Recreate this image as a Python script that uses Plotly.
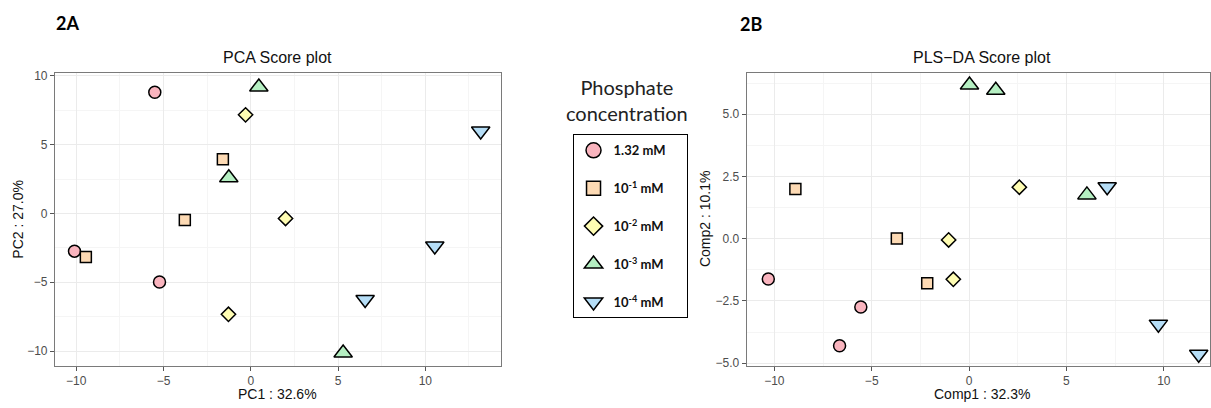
import plotly.graph_objects as go

W, H = 1211, 408

groups = ["1.32 mM", "10<sup>-1</sup> mM", "10<sup>-2</sup> mM", "10<sup>-3</sup> mM", "10<sup>-4</sup> mM"]
symbols = ["circle", "square", "diamond", "triangle-up", "triangle-down"]
colors = ["#F9B4BE", "#FDDAB4", "#FFFDB3", "#B5EFC2", "#B5DDF6"]
sizes = [12, 11, 11, 16, 16]
legend_sizes = [15, 14, 14, 16, 16]

# PCA scores (PC1, PC2) per group
pca_x = [[-5.5, -10.1, -5.23], [-1.6, -3.78, -9.45], [-0.3, 1.99, -1.28], [0.46, -1.26, 5.29], [13.17, 10.54, 6.55]]
pca_y = [[8.81, -2.74, -4.98], [3.95, -0.48, -3.17], [7.17, -0.36, -7.33], [9.2, 2.6, -10.14], [6.0, -2.36, -6.26]]

# PLS-DA scores (Comp1, Comp2) per group
pls_x = [[-10.31, -5.56, -6.65], [-8.92, -3.71, -2.15], [2.58, -1.05, -0.81], [0.02, 1.37, 6.05], [7.09, 9.72, 11.79]]
pls_y = [[-1.62, -2.74, -4.30], [2.0, 0.01, -1.79], [2.07, -0.05, -1.63], [6.17, 5.96, 1.76], [2.09, -3.43, -4.64]]

PAD = "\u00a0" * 5  # trailing room so the legend box is as wide as the reference

fig = go.Figure()
for i, g in enumerate(groups):
    mk = dict(symbol=symbols[i], color=colors[i], size=sizes[i], line=dict(color="black", width=1.5))
    fig.add_trace(go.Scatter(x=pca_x[i], y=pca_y[i], mode="markers", marker=mk, name=g,
                             legendgroup=g, showlegend=False, xaxis="x", yaxis="y"))
    fig.add_trace(go.Scatter(x=pls_x[i], y=pls_y[i], mode="markers", marker=mk, name=g,
                             legendgroup=g, showlegend=False, xaxis="x2", yaxis="y2"))
    # legend entry (larger key symbol, as in the reference legend)
    lmk = dict(symbol=symbols[i], color=colors[i], size=legend_sizes[i], line=dict(color="black", width=1.5))
    fig.add_trace(go.Scatter(x=[None], y=[None], mode="markers", marker=lmk, name=g + PAD,
                             legendgroup=g, showlegend=True, xaxis="x", yaxis="y"))

def px2x(p):
    return p / W

def px2y(p):
    return 1 - p / H

grid = "#EBEBEB"
minorgrid = "#F5F5F5"
axcommon = dict(showgrid=True, gridcolor=grid, gridwidth=1.2, zeroline=False, showline=True,
                linecolor="#7a7a7a", linewidth=1, mirror=True, ticks="outside", ticklen=4,
                tickcolor="#555", tickfont=dict(family="Liberation Sans, Arial", size=12, color="#4D4D4D"))

fig.update_layout(
    width=W, height=H, margin=dict(l=0, r=0, t=0, b=0),
    plot_bgcolor="white", paper_bgcolor="white",
    xaxis=dict(domain=[px2x(55), px2x(501)], range=[-11.22, 14.31], tickvals=[-10, -5, 0, 5, 10],
               minor=dict(tickvals=[-7.5, -2.5, 2.5, 7.5, 12.5], showgrid=True, gridcolor=minorgrid, ticks=""),
               anchor="y", **axcommon),
    yaxis=dict(domain=[px2y(370), px2y(71)], range=[-11.07, 10.24], tickvals=[-10, -5, 0, 5, 10],
               minor=dict(tickvals=[-7.5, -2.5, 2.5, 7.5], showgrid=True, gridcolor=minorgrid, ticks=""),
               anchor="x", **axcommon),
    xaxis2=dict(domain=[px2x(747.3), 1.0], range=[-11.42, 12.37], tickvals=[-10, -5, 0, 5, 10],
                minor=dict(tickvals=[-7.5, -2.5, 2.5, 7.5, 12.5], showgrid=True, gridcolor=minorgrid, ticks=""),
                anchor="y2", **axcommon),
    yaxis2=dict(domain=[px2y(370), px2y(71)], range=[-5.1, 6.67], tickvals=[-5, -2.5, 0, 2.5, 5],
                tickformat=".1f",
                minor=dict(tickvals=[-3.75, -1.25, 1.25, 3.75, 6.25], showgrid=True, gridcolor=minorgrid, ticks=""),
                anchor="x2", **axcommon),
    legend=dict(x=px2x(573), y=px2y(134), xanchor="left", yanchor="top",
                bordercolor="black", borderwidth=1, bgcolor="white",
                font=dict(family="Lato", size=13, color="#111", weight="bold"),
                tracegroupgap=18, itemsizing="trace"),
)

ann_font_axis = dict(family="Liberation Sans, Arial", size=14, color="#111")
annotations = [
    dict(text="<b>2A</b>", x=px2x(54), y=px2y(20), xanchor="left", yanchor="middle",
         font=dict(family="Lato", size=18, color="black")),
    dict(text="<b>2B</b>", x=px2x(739), y=px2y(21), xanchor="left", yanchor="middle",
         font=dict(family="Lato", size=18, color="black")),
    dict(text="PCA Score plot", x=px2x(278), y=px2y(56), xanchor="center", yanchor="middle",
         font=dict(family="Liberation Sans, Arial", size=16, color="#111")),
    dict(text="PLS\u2212DA Score plot", x=px2x(983), y=px2y(56), xanchor="center", yanchor="middle",
         font=dict(family="Liberation Sans, Arial", size=16, color="#111")),
    dict(text="PC1 : 32.6%", x=px2x(278), y=px2y(399), xanchor="center", yanchor="middle", font=ann_font_axis),
    dict(text="PC2 : 27.0%", x=px2x(18), y=px2y(220), xanchor="center", yanchor="middle", textangle=-90,
         font=ann_font_axis),
    dict(text="Comp1 : 32.3%", x=px2x(983), y=px2y(399), xanchor="center", yanchor="middle", font=ann_font_axis),
    dict(text="Comp2 : 10.1%", x=px2x(705), y=px2y(220), xanchor="center", yanchor="middle", textangle=-90,
         font=ann_font_axis),
    dict(text="Phosphate<br>concentration", x=px2x(628), y=px2y(99), xanchor="center", yanchor="middle",
         font=dict(family="Lato", size=20, color="#222")),
]
for a in annotations:
    a.update(xref="paper", yref="paper", showarrow=False)
fig.update_layout(annotations=annotations)

fig.write_html("out.html", config={"displayModeBar": False},
               post_script="document.body.style.margin='0';")
